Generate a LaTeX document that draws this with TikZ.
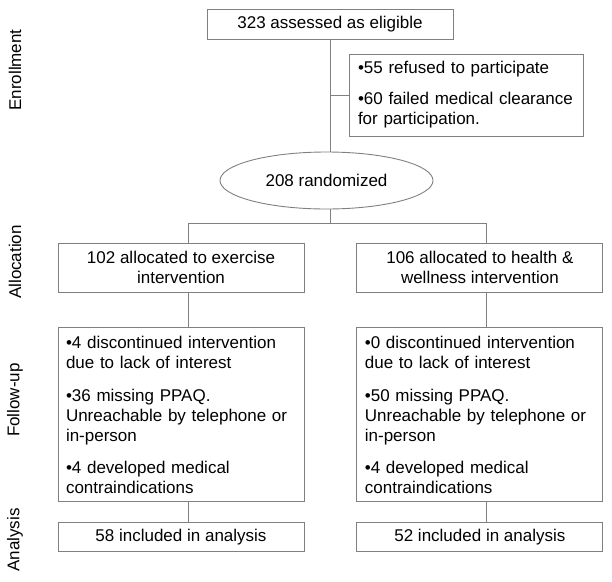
\documentclass[tikz,border=0pt]{standalone}
\usepackage{fontspec}
\setmainfont{Liberation Sans}
\usetikzlibrary{positioning,shapes.geometric}
\definecolor{linegray}{RGB}{128,128,128}

\begin{document}
\begin{tikzpicture}[x=1pt, y=1pt, % flow of participants through the trial
    every node/.style={font=\fontsize{17}{20}\selectfont},
    box/.style={draw=linegray, line width=0.9pt, inner ysep=2pt},
    cbox/.style={box, align=center, minimum width=246pt, inner xsep=0pt},
    lbox/.style={box, align=left, text width=230pt, inner xsep=8pt},
    phase/.style={rotate=90, inner sep=0pt},
    link/.style={draw=linegray, line width=0.9pt}]
    \useasboundingbox (0,0) rectangle (612,-581);

    \node[cbox, minimum height=30pt] (elig) at (330,-24) {323 assessed as eligible};
    \node[box, align=left, text width=216pt, inner xsep=9pt, minimum height=82pt] (excl) at (466,-95)
        {•55 refused to participate\\[11pt]•60 failed medical clearance\\for participation.};
    \node[ellipse, draw=linegray, line width=0.9pt, minimum width=213pt, minimum height=57pt, inner sep=0pt]
        (rand) at (326.5,-180.5) {208 randomized};

    \node[cbox, minimum height=49pt] (alloc1) at (181,-267.5) {102 allocated to exercise\\intervention};
    \node[cbox, minimum height=49pt, right=52pt of alloc1] (alloc2) {106 allocated to health \&\\wellness intervention};

    \node[lbox, minimum height=174pt, below=35pt of alloc1] (fu1)
        {•4 discontinued intervention\\due to lack of interest\\[13pt]•36 missing PPAQ.\\Unreachable by telephone or\\in-person\\[12pt]•4 developed medical\\contraindications};
    \node[lbox, minimum height=174pt, below=35pt of alloc2] (fu2)
        {•0 discontinued intervention\\due to lack of interest\\[13pt]•50 missing PPAQ.\\Unreachable by telephone or\\in-person\\[12pt]•4 developed medical\\contraindications};

    \node[cbox, minimum height=29pt, below=20pt of fu1] (an1) {58 included in analysis};
    \node[cbox, minimum height=29pt, below=20pt of fu2] (an2) {52 included in analysis};

    % phase labels on the left
    \node[phase] (lenr) at (15,-70) {Enrollment};
    \node[phase] (lall) at (15,-262) {Allocation};
    \node[phase] (lfol) at (15,-400) {Follow-up};
    \node[phase] (lana) at (15,-540) {Analysis};

    % connectors
    \coordinate (br) at (elig.south |- excl.west);
    \path (rand.south -| elig.south) ++(0,-14) coordinate (split);
    \draw[link] (elig.south) -- (elig.south |- rand.north);
    \draw[link] (br) -- (excl.west);
    \draw[link] (rand.south -| elig.south) -- (split);
    \draw[link] ([xshift=7pt]alloc1.north |- split) -- ([xshift=7pt]alloc2.north |- split);
    \foreach \col in {1,2} {
        \draw[link] ([xshift=7pt]alloc\col.north |- split) -- ([xshift=7pt]alloc\col.north);
        \draw[link] ([xshift=7pt]alloc\col.south) -- ([xshift=7pt]fu\col.north);
        \draw[link] ([xshift=7pt]fu\col.south) -- ([xshift=7pt]an\col.north);
    }
\end{tikzpicture}
\end{document}
